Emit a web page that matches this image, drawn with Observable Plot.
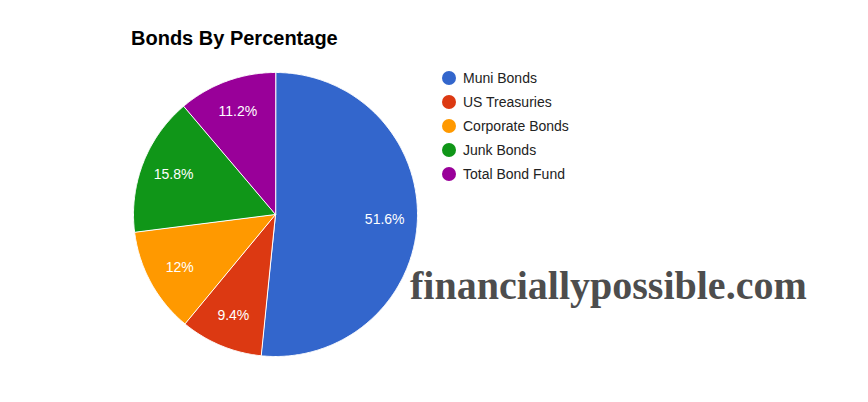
<!DOCTYPE html>
<html><head><meta charset="utf-8">
<script src="https://cdn.jsdelivr.net/npm/d3@7"></script>
<script src="https://cdn.jsdelivr.net/npm/@observablehq/plot@0.6"></script>
<style>
body{margin:0;background:#fff;}
#wrap{position:relative;width:868px;height:402px;font-family:"Liberation Sans",Arial,sans-serif;}
#chart{position:absolute;left:0;top:0;}
#title{position:absolute;left:131px;top:28px;font-size:20px;line-height:20px;font-weight:bold;color:#000;white-space:nowrap;}
#legend{position:absolute;left:442px;top:66px;}
.item{height:24px;display:flex;align-items:center;font-size:14px;color:#222;white-space:nowrap;}
.sw{width:14px;height:14px;border-radius:50%;margin-right:7px;flex:none;}
#wm{position:absolute;left:410px;top:266px;font-family:"Liberation Serif","Times New Roman",serif;font-weight:bold;font-size:40px;line-height:40px;color:#4d4d4d;white-space:nowrap;}
</style>
</head><body>
<div id="wrap">
<div id="chart"></div>
<div id="title"></div>
<div id="legend"></div>
<div id="wm"></div>
</div>
<script>
const titleText = "Bonds By Percentage";
const watermark = "financiallypossible.com";
const categories = ["Muni Bonds","US Treasuries","Corporate Bonds","Junk Bonds","Total Bond Fund"];
const values = [51.6, 9.4, 12, 15.8, 11.2];
const labels = ["51.6%","9.4%","12%","15.8%","11.2%"];
const colors = ["#3366cc","#dc3912","#ff9900","#109618","#990099"];

const arcs = d3.pie().sort(null).value(d => d)(values);
const slices = arcs.map((a, i) => {
  const n = Math.max(2, Math.ceil((a.endAngle - a.startAngle) / (Math.PI / 360)));
  const ring = [[0, 0]];
  for (let k = 0; k <= n; k++) {
    const t = a.startAngle + (a.endAngle - a.startAngle) * k / n;
    ring.push([Math.sin(t), -Math.cos(t)]);
  }
  ring.push([0, 0]);
  return {type: "Feature", properties: {name: categories[i]}, geometry: {type: "Polygon", coordinates: [ring]}};
});
const labelPts = arcs.map((a, i) => {
  const m = (a.startAngle + a.endAngle) / 2;
  return {x: 0.77 * Math.sin(m), y: -0.77 * Math.cos(m), label: labels[i]};
});

const chart = Plot.plot({
  width: 868, height: 402,
  marginLeft: 133, marginRight: 451, marginTop: 72, marginBottom: 46,
  style: {fontFamily: "Liberation Sans, Arial, sans-serif", background: "transparent"},
  projection: {type: "identity", inset: 0, domain: {type: "MultiPoint", coordinates: [[-1, -1], [1, 1]]}},
  color: {domain: categories, range: colors},
  marks: [
    Plot.geo(slices, {fill: d => d.properties.name, stroke: "white", strokeWidth: 1}),
    Plot.text(labelPts, {x: "x", y: "y", text: "label", fill: "white", fontSize: 14})
  ]
});
document.getElementById("chart").appendChild(chart);
document.getElementById("title").textContent = titleText;
document.getElementById("wm").textContent = watermark;
const leg = document.getElementById("legend");
categories.forEach((c, i) => {
  const it = document.createElement("div"); it.className = "item";
  const sw = document.createElement("span"); sw.className = "sw"; sw.style.background = colors[i];
  const tx = document.createElement("span"); tx.textContent = c;
  it.appendChild(sw); it.appendChild(tx); leg.appendChild(it);
});
</script>
</body></html>
